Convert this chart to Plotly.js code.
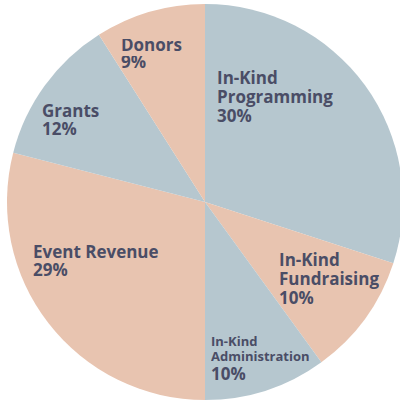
<!DOCTYPE html>
<html>
<head>
<meta charset="utf-8">
<script src="https://cdn.plot.ly/plotly-3.0.1.min.js"></script>
<style>
  html, body { margin: 0; padding: 0; overflow: hidden; background: #fff; }
  #chart { width: 410px; height: 401px; }
</style>
</head>
<body>
<div id="chart"></div>
<script>
var labels = ['In-Kind Programming', 'In-Kind Fundraising', 'In-Kind Administration',
              'Event Revenue', 'Grants', 'Donors'];
var shares = [30, 10, 10, 29, 12, 9];
var labelLines = [
  ['In-Kind', 'Programming'],
  ['In-Kind', 'Fundraising'],
  ['In-Kind', 'Administration'],
  ['Event Revenue'],
  ['Grants'],
  ['Donors']
];

var blue = '#b6c7cf';
var peach = '#e8c4b0';
var ink = '#4a4d66';

var trace = {
  type: 'pie',
  labels: labels,
  values: shares,
  sort: false,
  direction: 'clockwise',
  rotation: 0,
  textinfo: 'none',
  marker: { colors: [blue, peach, blue, peach, blue, peach], line: { width: 0 } },
  domain: { x: [0, 1], y: [1 / 401, 397 / 401] },
  showlegend: false
};

// left x, baselines (px from top), font size and line box height per label block
var labelX = [216, 278, 210, 32, 41, 120];
var baseY = [
  [85, 104, 123],
  [267, 286, 305],
  [347, 362, 381],
  [259, 277],
  [118, 136],
  [52, 69]
];
var lineSize = [
  [17, 17, 17],
  [17, 17, 17],
  [13, 13, 17],
  [17, 17],
  [17, 17],
  [17, 17]
];
var lineBox = [
  [19, 19, 19],
  [19, 19, 19],
  [15, 15, 19],
  [18, 18],
  [18, 18],
  [17, 17]
];

var annotations = [];
for (var i = 0; i < labels.length; i++) {
  var lines = labelLines[i].concat([shares[i] + '%']);
  for (var j = 0; j < lines.length; j++) {
    var sz = lineSize[i][j];
    var bottom = baseY[i][j] + 0.293 * sz;
    annotations.push({
      xref: 'paper', yref: 'paper',
      x: labelX[i] / 410, y: 1 - bottom / 401,
      xanchor: 'left', yanchor: 'bottom', align: 'left', valign: 'bottom',
      height: lineBox[i][j],
      showarrow: false, borderpad: 0,
      text: lines[j],
      font: { family: 'Open Sans', size: sz, color: ink, weight: 700 }
    });
  }
}

var layout = {
  width: 410,
  height: 401,
  margin: { l: 0, r: 0, t: 0, b: 0 },
  paper_bgcolor: '#ffffff',
  annotations: annotations
};

Plotly.newPlot('chart', [trace], layout, { displayModeBar: false, staticPlot: true });
</script>
</body>
</html>
